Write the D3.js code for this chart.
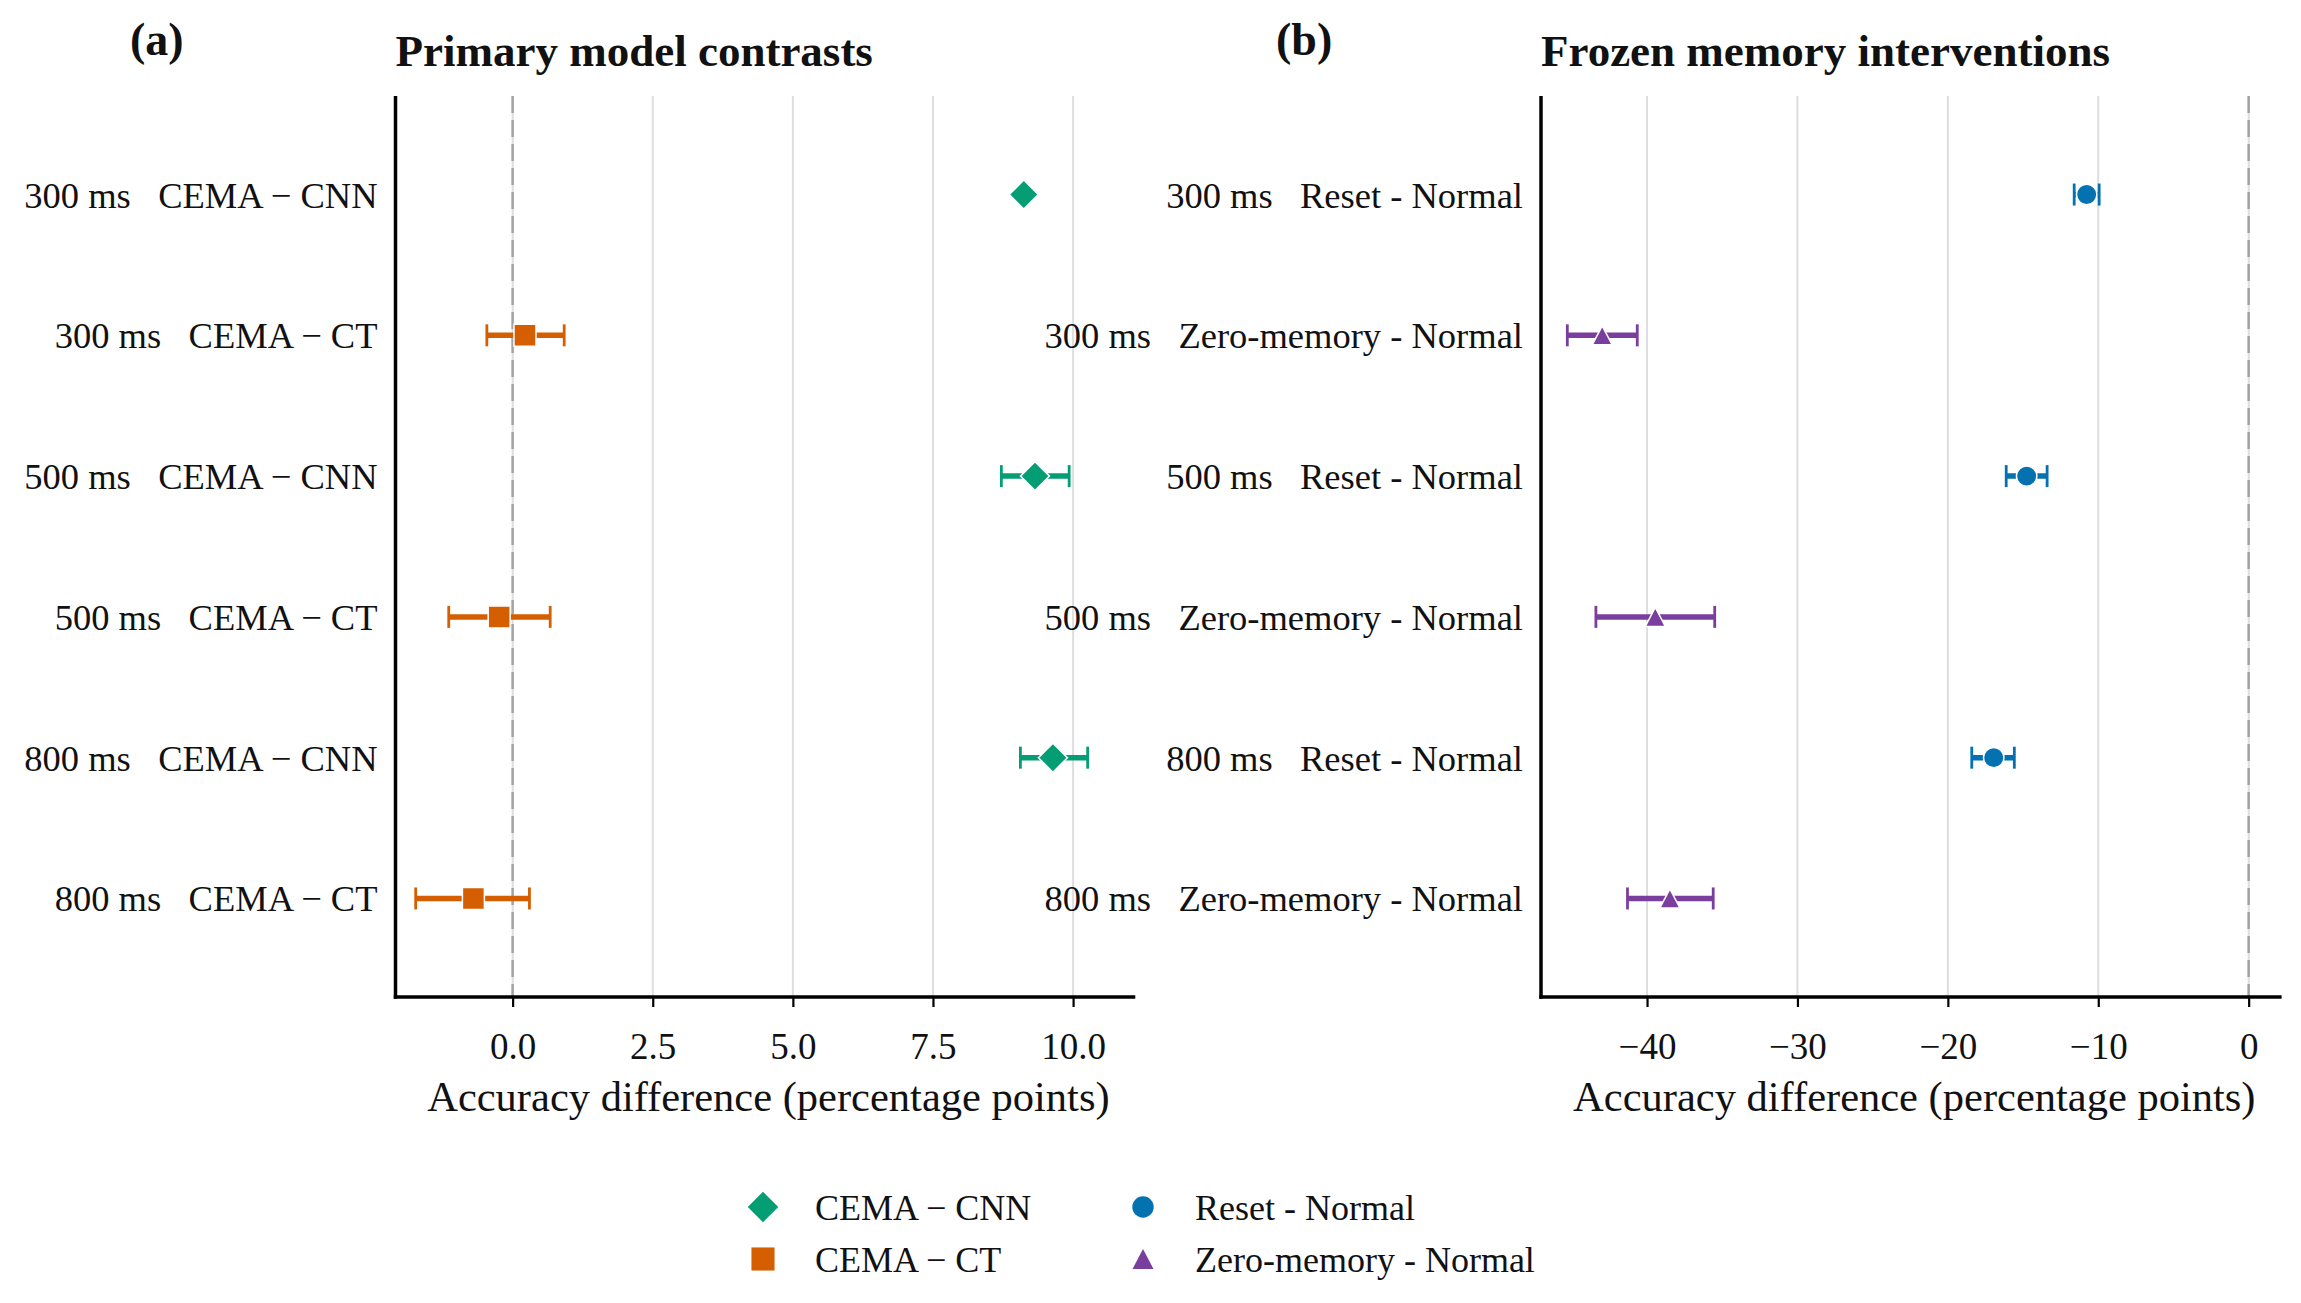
<!DOCTYPE html>
<html>
<head>
<meta charset="utf-8">
<script src="https://cdn.jsdelivr.net/npm/d3@7"></script>
<style>
  body { margin: 0; background: #fff; }
  svg { display: block; font-family: "Liberation Serif", "Times New Roman", serif; }
  text { white-space: pre; }
</style>
</head>
<body>
<svg id="chart" width="2301" height="1303"></svg>
<script>
// ---- data ----
const durations = ["300 ms", "500 ms", "800 ms"];

// panel (a): primary model contrasts
const cnnMean = [9.12, 9.32, 9.64];
const cnnLo   = [9.09, 8.72, 9.06];
const cnnHi   = [9.15, 9.93, 10.26];
const ctMean  = [0.22, -0.24, -0.70];
const ctLo    = [-0.46, -1.14, -1.73];
const ctHi    = [0.92, 0.67, 0.30];

// panel (b): frozen memory interventions
const resetMean = [-10.77, -14.76, -16.95];
const resetLo   = [-11.60, -16.12, -18.41];
const resetHi   = [-9.94, -13.40, -15.58];
const zeroMean  = [-42.98, -39.45, -38.48];
const zeroLo    = [-45.30, -43.40, -41.30];
const zeroHi    = [-40.65, -35.50, -35.60];

const ticksA = [0, 2.5, 5, 7.5, 10];
const ticksB = [-40, -30, -20, -10, 0];

const colors = { cnn: "#049d74", ct: "#d55e00", reset: "#0472b1", zero: "#7a3e9f" };

// ---- helpers ----
function shape(kind, s) {
  s = s || 1;
  if (kind === "diamond") { const r = 14.5 * s; return `M0,${-r}L${r},0L0,${r}L${-r},0Z`; }
  if (kind === "square")  { const r = 11 * s; return `M${-r},${-r}H${r}V${r}H${-r}Z`; }
  if (kind === "circle")  { const r = 10.2 * s; return `M${r},0A${r},${r} 0 1,1 ${-r},0A${r},${r} 0 1,1 ${r},0Z`; }
  // triangle up
  const w = 10 * s, h = 9.5 * s;
  return `M0,${-h}L${w},${h}L${-w},${h}Z`;
}

const svg = d3.select("#chart");
const plotTop = 96, plotBottom = 997;

function rows(series) {
  // interleave series per duration: 300 A, 300 B, 500 A, ...
  const out = [];
  durations.forEach((d, i) => {
    series.forEach(s => {
      out.push({ label: d + "   " + s.name, mean: s.mean[i], lo: s.lo[i], hi: s.hi[i], color: s.color, kind: s.kind });
    });
  });
  return out;
}

function panel(opt) {
  const x = d3.scaleLinear().domain(opt.domain).range(opt.range);
  const data = rows(opt.series);
  const y = d3.scalePoint().domain(data.map(d => d.label)).range([plotTop, plotBottom]).padding(0.7);
  const g = svg.append("g");

  // grid
  g.selectAll(".grid").data(opt.ticks).enter().append("line")
    .attr("x1", d => x(d)).attr("x2", d => x(d))
    .attr("y1", plotTop).attr("y2", plotBottom)
    .attr("stroke", "#dedede").attr("stroke-width", 2);

  // zero reference
  g.append("line")
    .attr("x1", x(0)).attr("x2", x(0)).attr("y1", plotTop).attr("y2", plotBottom)
    .attr("stroke", "#a3a3a3").attr("stroke-width", 2.5).attr("stroke-dasharray", "17,7");

  // error bars
  const eb = g.selectAll(".eb").data(data).enter().append("g")
    .attr("transform", d => `translate(0,${y(d.label)})`)
    .attr("stroke", d => d.color);
  eb.append("line").attr("x1", d => x(d.lo)).attr("x2", d => x(d.hi)).attr("stroke-width", 5.5);
  eb.append("line").attr("x1", d => x(d.lo)).attr("x2", d => x(d.lo)).attr("y1", -11).attr("y2", 11).attr("stroke-width", 2.8);
  eb.append("line").attr("x1", d => x(d.hi)).attr("x2", d => x(d.hi)).attr("y1", -11).attr("y2", 11).attr("stroke-width", 2.8);

  // markers
  g.selectAll(".mk").data(data).enter().append("path")
    .attr("transform", d => `translate(${x(d.mean)},${y(d.label)})`)
    .attr("d", d => shape(d.kind))
    .attr("fill", d => d.color)
    .attr("stroke", "#fff").attr("stroke-width", 1.5);

  // y labels
  g.selectAll(".yl").data(data).enter().append("text")
    .attr("x", opt.range[0] - 18).attr("y", d => y(d.label) + 13)
    .attr("text-anchor", "end").attr("font-size", 36.5).attr("fill", "#111")
    .text(d => d.label);

  // x axis
  const ax = g.append("g").attr("transform", `translate(0,${plotBottom})`)
    .call(d3.axisBottom(x).tickValues(opt.ticks).tickFormat(opt.format).tickSize(10).tickPadding(26));
  ax.select(".domain").remove();
  ax.selectAll("line").attr("stroke", "#000").attr("stroke-width", 2.2);
  ax.selectAll("text").attr("font-size", 37).attr("fill", "#111")
    .attr("font-family", "Liberation Serif, Times New Roman, serif");

  // spines
  g.append("line").attr("x1", opt.range[0]).attr("x2", opt.range[0]).attr("y1", plotTop).attr("y2", plotBottom + 1.7)
    .attr("stroke", "#000").attr("stroke-width", 3.5);
  g.append("line").attr("x1", opt.range[0] - 1.7).attr("x2", opt.range[1]).attr("y1", plotBottom).attr("y2", plotBottom)
    .attr("stroke", "#000").attr("stroke-width", 3.5);

  // axis title
  g.append("text").attr("x", (opt.range[0] + opt.range[1]) / 2 + 3).attr("y", 1111)
    .attr("text-anchor", "middle").attr("font-size", 42.5).attr("fill", "#111")
    .text("Accuracy difference (percentage points)");

  // title + panel letter
  g.append("text").attr("x", opt.range[0]).attr("y", 66)
    .attr("font-size", 45).attr("font-weight", "bold").attr("fill", "#111").text(opt.title);
  g.append("text").attr("x", opt.letterX).attr("y", 55)
    .attr("font-size", 46).attr("font-weight", "bold").attr("fill", "#111").text(opt.letter);
}

panel({
  domain: [-2.09, 11.11], range: [395.5, 1135.3], ticks: ticksA, format: d3.format(".1f"),
  title: "Primary model contrasts", letter: "(a)", letterX: 130,
  series: [
    { name: "CEMA − CNN", mean: cnnMean, lo: cnnLo, hi: cnnHi, color: colors.cnn, kind: "diamond" },
    { name: "CEMA − CT",  mean: ctMean,  lo: ctLo,  hi: ctHi,  color: colors.ct,  kind: "square" }
  ]
});

panel({
  domain: [-47.05, 2.19], range: [1541, 2281.6], ticks: ticksB, format: d3.format("d"),
  title: "Frozen memory interventions", letter: "(b)", letterX: 1276,
  series: [
    { name: "Reset - Normal",       mean: resetMean, lo: resetLo, hi: resetHi, color: colors.reset, kind: "circle" },
    { name: "Zero-memory - Normal", mean: zeroMean,  lo: zeroLo,  hi: zeroHi,  color: colors.zero,  kind: "triangle" }
  ]
});

// ---- legend ----
const legendItems = [
  { name: "CEMA − CNN", color: colors.cnn, kind: "diamond", col: 0, row: 0 },
  { name: "CEMA − CT", color: colors.ct, kind: "square", col: 0, row: 1 },
  { name: "Reset - Normal", color: colors.reset, kind: "circle", col: 1, row: 0 },
  { name: "Zero-memory - Normal", color: colors.zero, kind: "triangle", col: 1, row: 1 }
];
const colX = [763, 1143], rowY = [1207, 1259];
const lg = svg.append("g").selectAll("g").data(legendItems).enter().append("g")
  .attr("transform", d => `translate(${colX[d.col]},${rowY[d.row]})`);
lg.append("path").attr("d", d => shape(d.kind, 1.05)).attr("fill", d => d.color);
lg.append("text").attr("x", 52).attr("y", 13).attr("font-size", 36).attr("fill", "#111").text(d => d.name);
</script>
</body>
</html>
